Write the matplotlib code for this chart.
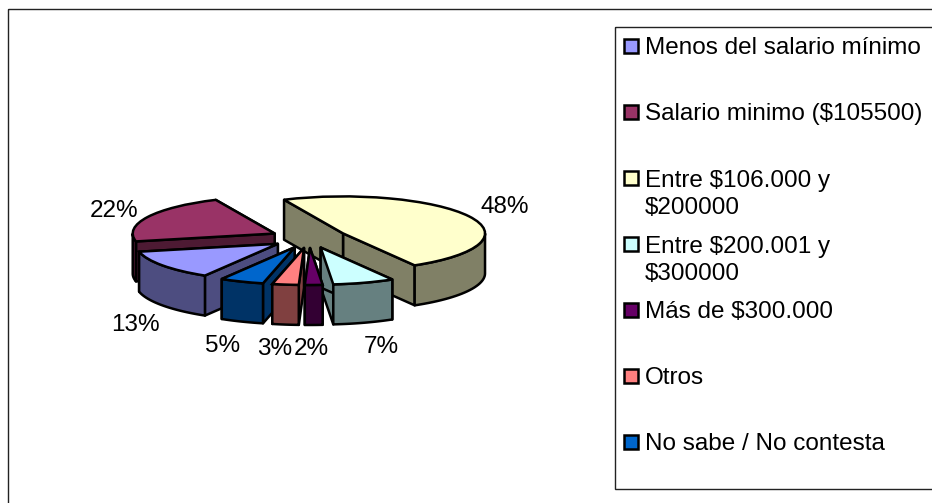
import numpy as np
import matplotlib
matplotlib.use('Agg')
import matplotlib.pyplot as plt
from matplotlib.patches import Polygon, Rectangle
from matplotlib.transforms import Affine2D

plt.rcParams['font.family'] = ['Liberation Sans', 'DejaVu Sans']

categories = ['Menos del salario mínimo', 'Salario minimo ($105500)',
              'Entre $106.000 y\n$200000', 'Entre $200.001 y\n$300000',
              'Más de $300.000', 'Otros', 'No sabe / No contesta']
values = [13, 21.6, 48.4, 7, 2, 3, 5]
colors = ['#9999FF', '#993366', '#FFFFCC', '#CCFFFF', '#660066', '#FF8080', '#0066CC']

# flattened pie, sizes in pixels
cx, cy = 309, 238
rx, ry = 142, 37
depth = 40
explode = 0.27
start = -120.9
draw_order = [1, 2, 0, 6, 5, 3, 4]  # back to front
label_pos = [(135, 323), (114, 209), (505, 205), (381, 345), (311, 347), (275, 347), (223, 344)]
legend_y = [46, 112, 192.5, 258.5, 310, 376, 442]

fig = plt.figure(figsize=(9.32, 5.03), dpi=100)
ax = fig.add_axes([0, 0, 1, 1])

wedges, _ = ax.pie(values, colors=colors, startangle=start, counterclock=False,
                   explode=[explode] * len(values), radius=1,
                   wedgeprops=dict(edgecolor='black', linewidth=1.8))
ax.set_xlim(0, 932)
ax.set_ylim(503, 0)
ax.set_axis_off()
squash = Affine2D().scale(rx, -ry).translate(cx, cy) + ax.transData


def side(xs, ys, color, z):
    # extrude a top edge downwards
    top = np.column_stack([xs, ys])
    low = (top + [0, depth])[::-1]
    ax.add_patch(Polygon(np.vstack([top, low]), closed=True, facecolor=color,
                         edgecolor='black', linewidth=1.8, joinstyle='round', zorder=z))


for z, i in enumerate(draw_order):
    w = wedges[i]
    dark = tuple(0.5 * c for c in matplotlib.colors.to_rgb(colors[i]))
    t = np.radians(np.linspace(w.theta1, w.theta2, 80))
    ox, oy = w.center
    px = cx + rx * (ox + np.cos(t))
    py = cy - ry * (oy + np.sin(t))
    ax_x = cx + rx * ox
    ax_y = cy - ry * oy
    # the two cut faces, then the outer rim where it faces the viewer
    side([ax_x, px[0]], [ax_y, py[0]], dark, 10 + z)
    side([ax_x, px[-1]], [ax_y, py[-1]], dark, 10 + z + 0.1)
    front = np.sin(t) < 0
    if front.any():
        side(px[front], py[front], dark, 10 + z + 0.2)
    w.set_transform(squash)
    w.set_zorder(10 + z + 0.3)

for v, (x, y) in zip(values, label_pos):
    ax.text(x, y + 2, f'{v:.0f}%', ha='center', va='center', fontsize=17.5, color='black', zorder=30)

# chart and legend frames run off the picture on the right
ax.add_patch(Rectangle((8, 9), 1000, 600, facecolor='none', edgecolor='#222222', linewidth=1, zorder=1))
ax.add_patch(Rectangle((615, 27), 400, 462, facecolor='none', edgecolor='#222222', linewidth=1, zorder=1))

for name, col, y in zip(categories, colors, legend_y):
    first_y = y - 14.5 if '\n' in name else y
    ax.add_patch(Rectangle((623.5, first_y - 7), 14, 14, facecolor=col, edgecolor='black',
                           linewidth=1.8, zorder=5))
    ax.text(645, y + 2, name, ha='left', va='center', fontsize=17.5, color='black',
            linespacing=1.27, zorder=5)

fig.savefig('out.png', dpi=100)
